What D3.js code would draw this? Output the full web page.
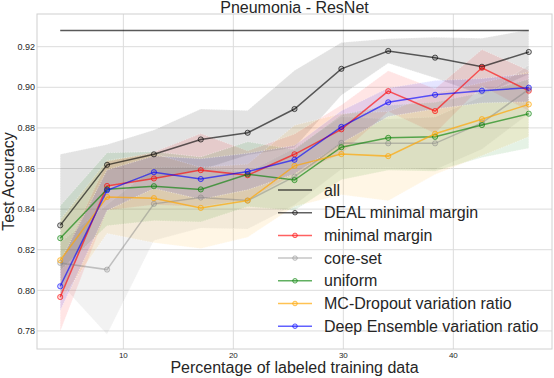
<!DOCTYPE html>
<html>
<head>
<meta charset="utf-8">
<script src="https://cdn.jsdelivr.net/npm/d3@7"></script>
<style>
  body { margin: 0; background: #fff; }
  svg { display: block; font-family: "Liberation Sans", Arial, sans-serif; }
</style>
</head>
<body>
<svg id="chart" width="554" height="378"></svg>
<script>
// Pneumonia - ResNet: test accuracy vs. % labeled data, mean line + std band per method

var pct = [4.26, 8.52, 12.78, 17.04, 21.3, 25.56, 29.82, 34.08, 38.34, 42.6, 46.86];

var allAcc = 0.928;

var dealMean    = [0.832, 0.8618, 0.867, 0.8743, 0.8776, 0.8893, 0.9091, 0.9179, 0.9146, 0.9101, 0.9174];
var dealStd     = [0.035, 0.010, 0.012, 0.015, 0.011, 0.019, 0.013, 0.006, 0.010, 0.014, 0.011];
var marginMean  = [0.7967, 0.8514, 0.8551, 0.8592, 0.8567, 0.867, 0.8793, 0.8981, 0.8883, 0.9096, 0.8983];
var marginStd   = [0.017, 0.012, 0.013, 0.018, 0.012, 0.010, 0.012, 0.010, 0.011, 0.009, 0.010];
var coresetMean = [0.8135, 0.8102, 0.8426, 0.8457, 0.8442, 0.856, 0.8726, 0.8724, 0.8724, 0.8825, 0.899];
var coresetStd  = [0.010, 0.032, 0.018, 0.015, 0.014, 0.014, 0.013, 0.012, 0.013, 0.013, 0.012];
var uniformMean = [0.8257, 0.8498, 0.8513, 0.8497, 0.8572, 0.8543, 0.8705, 0.8751, 0.8756, 0.8814, 0.887];
var uniformStd  = [0.016, 0.018, 0.017, 0.016, 0.016, 0.015, 0.016, 0.016, 0.017, 0.016, 0.017];
var mcMean      = [0.8148, 0.846, 0.8454, 0.8406, 0.8442, 0.8613, 0.8671, 0.8661, 0.8771, 0.8843, 0.8916];
var mcStd       = [0.020, 0.018, 0.022, 0.020, 0.018, 0.020, 0.020, 0.022, 0.020, 0.018, 0.016];
var ensMean     = [0.802, 0.8493, 0.8582, 0.8548, 0.8585, 0.8643, 0.8805, 0.8926, 0.8963, 0.8983, 0.8998];
var ensStd      = [0.012, 0.010, 0.008, 0.010, 0.009, 0.007, 0.008, 0.007, 0.007, 0.006, 0.007];

var xTicks = [10, 20, 30, 40];
var yTicks = [0.78, 0.80, 0.82, 0.84, 0.86, 0.88, 0.90, 0.92];

var series = [
  { label: "DEAL minimal margin",           mean: dealMean,    std: dealStd,    color: "#000000", op: 0.62, fillOp: 0.11 },
  { label: "minimal margin",                mean: marginMean,  std: marginStd,  color: "#ff0000", op: 0.62, fillOp: 0.10 },
  { label: "core-set",                      mean: coresetMean, std: coresetStd, color: "#808080", op: 0.45, fillOp: 0.10 },
  { label: "uniform",                       mean: uniformMean, std: uniformStd, color: "#008000", op: 0.62, fillOp: 0.10 },
  { label: "MC-Dropout variation ratio",    mean: mcMean,      std: mcStd,      color: "#ffa500", op: 0.68, fillOp: 0.10 },
  { label: "Deep Ensemble variation ratio", mean: ensMean,     std: ensStd,     color: "#0000ff", op: 0.62, fillOp: 0.10 }
];

var svg = d3.select("#chart");
var pLeft = 37, pRight = 552, pTop = 14, pBottom = 349;

var x = d3.scaleLinear().domain([2.15, 48.97]).range([pLeft, pRight]);
var y = d3.scaleLinear().domain([0.7711, 0.9361]).range([pBottom, pTop]);

// grid
var grid = svg.append("g");
grid.selectAll(".gx").data(xTicks).enter().append("line")
  .attr("x1", function (d) { return x(d); }).attr("x2", function (d) { return x(d); })
  .attr("y1", pTop).attr("y2", pBottom)
  .attr("stroke", "#dcdcdc").attr("stroke-width", 1);
grid.selectAll(".gy").data(yTicks).enter().append("line")
  .attr("x1", pLeft).attr("x2", pRight)
  .attr("y1", function (d) { return y(d); }).attr("y2", function (d) { return y(d); })
  .attr("stroke", "#dcdcdc").attr("stroke-width", 1);

// bands
var area = d3.area()
  .x(function (d, i) { return x(pct[i]); })
  .y0(function (d) { return y(d[0]); })
  .y1(function (d) { return y(d[1]); });

series.forEach(function (s) {
  var band = s.mean.map(function (m, i) { return [m - s.std[i], m + s.std[i]]; });
  svg.append("path").datum(band)
    .attr("d", area)
    .attr("fill", s.color).attr("fill-opacity", s.fillOp)
    .attr("stroke", "#fff").attr("stroke-opacity", 0.6)
    .attr("stroke-width", 0.8).attr("stroke-dasharray", "1,1.5");
});

// "all" reference line
svg.append("line")
  .attr("x1", x(pct[0])).attr("x2", x(pct[pct.length - 1]))
  .attr("y1", y(allAcc)).attr("y2", y(allAcc))
  .attr("stroke", "#000").attr("stroke-opacity", 0.65).attr("stroke-width", 1.5);

// lines + markers
var line = d3.line()
  .x(function (d, i) { return x(pct[i]); })
  .y(function (d) { return y(d); });

series.forEach(function (s) {
  var g = svg.append("g");
  g.append("path").datum(s.mean)
    .attr("d", line)
    .attr("fill", "none")
    .attr("stroke", s.color).attr("stroke-opacity", s.op).attr("stroke-width", 1.5);
  g.selectAll("circle").data(s.mean).enter().append("circle")
    .attr("cx", function (d, i) { return x(pct[i]); })
    .attr("cy", function (d) { return y(d); })
    .attr("r", 2.6)
    .attr("fill", s.color).attr("fill-opacity", 0.15)
    .attr("stroke", s.color).attr("stroke-opacity", s.op).attr("stroke-width", 1);
});

// frame
svg.append("rect")
  .attr("x", pLeft).attr("y", pTop)
  .attr("width", pRight - pLeft).attr("height", pBottom - pTop)
  .attr("fill", "none").attr("stroke", "#d0d0d0").attr("stroke-width", 1);

// tick labels
svg.selectAll(".xt").data(xTicks).enter().append("text")
  .attr("x", function (d) { return x(d); }).attr("y", 357.5)
  .attr("text-anchor", "middle").attr("font-size", "8px").attr("fill", "#262626")
  .text(function (d) { return d; });
svg.selectAll(".yt").data(yTicks).enter().append("text")
  .attr("x", pLeft - 2).attr("y", function (d) { return y(d) + 3.2; })
  .attr("text-anchor", "end").attr("font-size", "9px").attr("fill", "#262626")
  .text(function (d) { return d3.format(".2f")(d); });

// titles
svg.append("text")
  .attr("x", (pLeft + pRight) / 2).attr("y", 12.5)
  .attr("text-anchor", "middle").attr("font-size", "16px").attr("fill", "#262626")
  .text("Pneumonia - ResNet");
svg.append("text")
  .attr("x", (pLeft + pRight) / 2).attr("y", 373)
  .attr("text-anchor", "middle").attr("font-size", "16px").attr("fill", "#262626")
  .text("Percentage of labeled training data");
svg.append("text")
  .attr("transform", "translate(14," + (pTop + pBottom) / 2 + ") rotate(-90)")
  .attr("text-anchor", "middle").attr("font-size", "16px").attr("fill", "#262626")
  .text("Test Accuracy");

// legend (no frame)
var legendItems = [{ label: "all", color: "#000000", op: 0.65, marker: false }].concat(
  series.map(function (s) { return { label: s.label, color: s.color, op: s.op, marker: true }; })
);
var lg = svg.append("g").attr("transform", "translate(278,190)");
legendItems.forEach(function (d, i) {
  var row = lg.append("g").attr("transform", "translate(0," + (i * 22.7) + ")");
  row.append("line").attr("x1", 0).attr("x2", 34).attr("y1", 0).attr("y2", 0)
    .attr("stroke", d.color).attr("stroke-opacity", d.op).attr("stroke-width", 1.5);
  if (d.marker) {
    row.append("circle").attr("cx", 17).attr("cy", 0).attr("r", 2.3)
      .attr("fill", d.color).attr("fill-opacity", 0.15)
      .attr("stroke", d.color).attr("stroke-opacity", d.op).attr("stroke-width", 1);
  }
  row.append("text").attr("x", 46).attr("y", 5.6)
    .attr("font-size", "16px").attr("fill", "#262626")
    .text(d.label);
});
</script>
</body>
</html>
